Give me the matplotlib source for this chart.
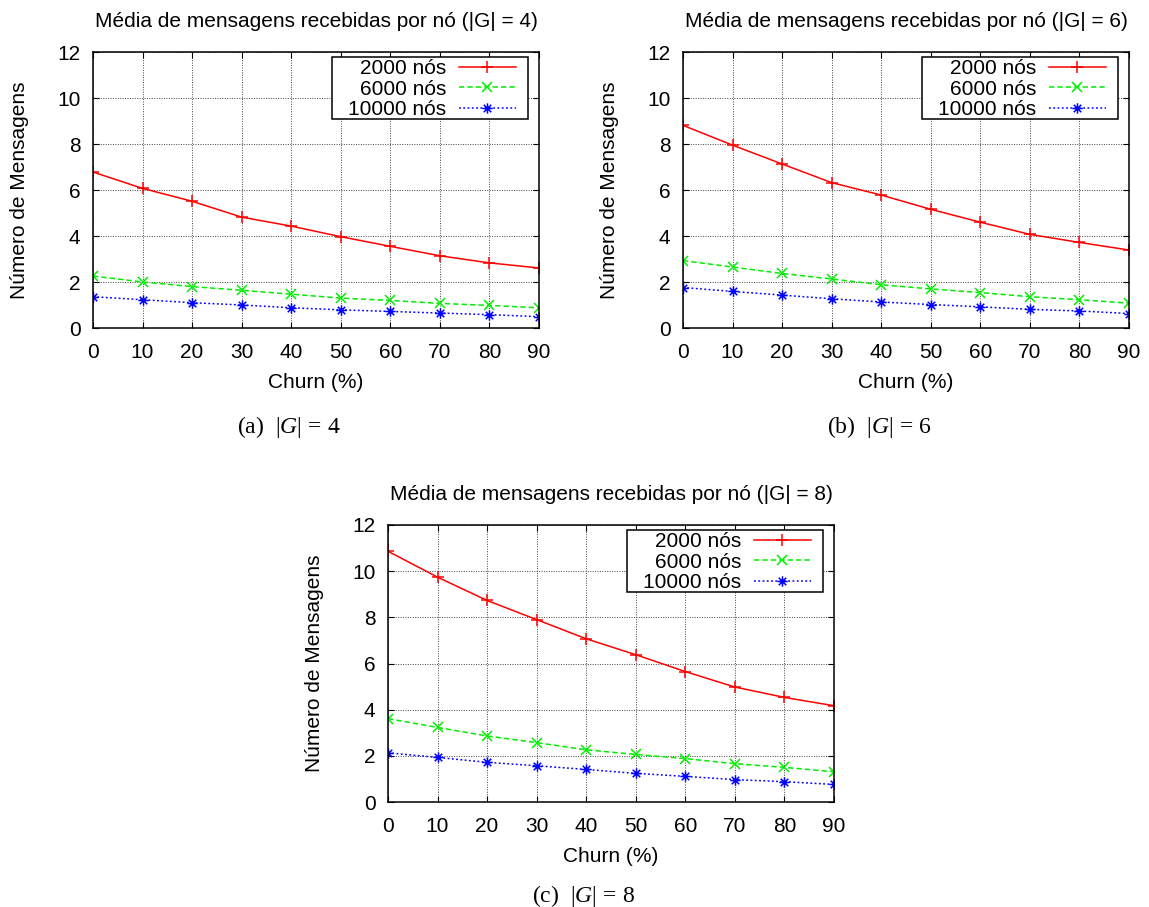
import matplotlib
matplotlib.use("Agg")
import matplotlib.pyplot as plt
from matplotlib.path import Path
from matplotlib.patches import Rectangle

# ---------------- data ----------------
churn = [0, 10, 20, 30, 40, 50, 60, 70, 80, 90]
series_labels = ["2000 nós", "6000 nós", "10000 nós"]

g4_2000 = [6.78, 6.07, 5.51, 4.82, 4.43, 3.97, 3.55, 3.14, 2.83, 2.61]
g4_6000 = [2.26, 2.00, 1.80, 1.64, 1.47, 1.30, 1.20, 1.07, 0.98, 0.88]
g4_10000 = [1.36, 1.23, 1.10, 1.00, 0.88, 0.79, 0.72, 0.65, 0.58, 0.49]

g6_2000 = [8.81, 7.95, 7.13, 6.32, 5.78, 5.16, 4.60, 4.07, 3.72, 3.39]
g6_6000 = [2.93, 2.65, 2.37, 2.13, 1.88, 1.70, 1.54, 1.36, 1.23, 1.08]
g6_10000 = [1.76, 1.59, 1.43, 1.27, 1.13, 1.02, 0.92, 0.81, 0.74, 0.63]

g8_2000 = [10.86, 9.74, 8.73, 7.90, 7.07, 6.38, 5.65, 4.98, 4.53, 4.17]
g8_6000 = [3.61, 3.23, 2.86, 2.57, 2.26, 2.06, 1.88, 1.66, 1.50, 1.31]
g8_10000 = [2.13, 1.93, 1.72, 1.57, 1.41, 1.24, 1.11, 0.97, 0.88, 0.76]

titles = ["Média de mensagens recebidas por nó (|G| = 4)",
          "Média de mensagens recebidas por nó (|G| = 6)",
          "Média de mensagens recebidas por nó (|G| = 8)"]
captions = [r"(a)  $|G|\,=\,4$", r"(b)  $|G|\,=\,6$", r"(c)  $|G|\,=\,8$"]
xlabel = "Churn (%)"
ylabel = "Número de Mensagens"
yticks = [0, 2, 4, 6, 8, 10, 12]

# ---------------- style ----------------
plt.rcParams['font.family'] = ['Liberation Sans', 'DejaVu Sans']
plt.rcParams['mathtext.fontset'] = 'custom'
plt.rcParams['mathtext.rm'] = 'Liberation Serif'
plt.rcParams['mathtext.it'] = 'Liberation Serif:italic'

W, H = 1149, 907
fig = plt.figure(figsize=(W / 100, H / 100), dpi=100)

# asterisk marker (plus + cross)
ast = Path([(-1, 0), (1, 0), (0, -1), (0, 1),
            (-0.72, -0.72), (0.72, 0.72), (-0.72, 0.72), (0.72, -0.72)],
           [Path.MOVETO, Path.LINETO, Path.MOVETO, Path.LINETO,
            Path.MOVETO, Path.LINETO, Path.MOVETO, Path.LINETO])

styles = [dict(color='#ff0000', linestyle='-', marker='+', markersize=8),
          dict(color='#00ee00', linestyle=(0, (3.5, 2)), marker='x', markersize=6.5),
          dict(color='#0000ff', linestyle=(0, (1.2, 1.6)), marker=ast, markersize=7.5)]

# axes boxes in pixels: left, top, right, bottom
boxes = [(93, 52, 539, 328), (683, 52, 1129, 328), (388, 525, 834, 802)]
cap_pos = [(289, 427), (879, 427), (584, 896)]
panels = [(g4_2000, g4_6000, g4_10000),
          (g6_2000, g6_6000, g6_10000),
          (g8_2000, g8_6000, g8_10000)]

FS = 15
legends = []
for (l, t, r, b), ttl, data, cap, (cx, cy) in zip(boxes, titles, panels, captions, cap_pos):
    ax = fig.add_axes([l / W, 1 - b / H, (r - l) / W, (b - t) / H])
    for ys, lab, st in zip(data, series_labels, styles):
        ax.plot(churn, ys, label=lab, linewidth=1.1, markeredgewidth=1.1, **st)
    ax.set_xlim(0, 90)
    ax.set_ylim(0, 12)
    ax.set_xticks(churn)
    ax.set_yticks(yticks)
    ax.grid(True, color='#444444', linestyle=(0, (1, 1.5)), linewidth=0.7)
    ax.tick_params(direction='in', top=True, right=True, length=4, width=0.8,
                   labelsize=FS)
    ax.tick_params(axis='x', pad=11)
    ax.tick_params(axis='y', pad=9)
    for sp in ax.spines.values():
        sp.set_linewidth(1.1)
    ax.set_title(ttl, fontsize=FS, pad=18)
    ax.set_xlabel(xlabel, fontsize=FS, labelpad=8)
    ax.set_ylabel(ylabel, fontsize=FS, labelpad=20)
    leg = ax.legend(loc='upper right', bbox_to_anchor=(0.948, 0.975),
                    markerfirst=False, fontsize=FS, frameon=False,
                    handlelength=2.75, handletextpad=0.6, labelspacing=0.08,
                    borderpad=0.0, borderaxespad=0.0)
    leg.set_zorder(6)
    legends.append((ax, leg))
    fig.text(cx / W, 1 - cy / H, cap, ha='center', va='center',
             fontsize=17, family='Liberation Serif')

# legend frame: wider horizontal padding than vertical (as in gnuplot key box)
fig.canvas.draw()
for ax, leg in legends:
    bb = leg.get_window_extent()
    inv = ax.transAxes.inverted()
    (x0, y0) = inv.transform((bb.x0 - 16, bb.y0))
    (x1, y1) = inv.transform((bb.x1 + 12, bb.y1 + 2))
    ax.add_patch(Rectangle((x0, y0), x1 - x0, y1 - y0, transform=ax.transAxes,
                           facecolor='white', edgecolor='black', linewidth=1.1,
                           zorder=5.5, clip_on=False))

fig.savefig("out.png", dpi=100)
